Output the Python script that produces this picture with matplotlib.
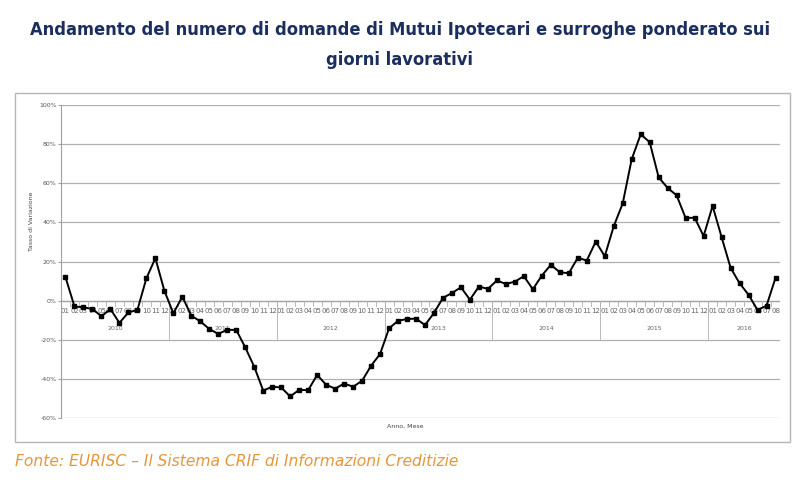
import numpy as np
import matplotlib.pyplot as plt
from matplotlib.patches import Rectangle

# years and months on the category axis (Jan 2010 .. Aug 2016)
years = ["2010", "2011", "2012", "2013", "2014", "2015", "2016"]
months_per_year = [12, 12, 12, 12, 12, 12, 8]

# variation rate in percent, one value per month
v2010 = [12, -3, -3.4, -4.3, -8, -4.3, -11.4, -6, -4.8, 11.4, 21.7, 5.1]
v2011 = [-6.5, 2, -7.7, -10.6, -14.5, -17, -14.9, -15, -23.9, -33.8, -46, -44]
v2012 = [-44.4, -49, -45.6, -45.8, -38, -43, -45, -42.4, -44, -41, -33.3, -27.3]
v2013 = [-14.2, -10.3, -9.4, -9.2, -12.5, -6.3, 1.4, 3.9, 6.8, 0.5, 7.2, 6]
v2014 = [10.3, 8.5, 9.7, 12.5, 5.8, 12.8, 18.3, 14.5, 14, 21.9, 20.5, 30.2]
v2015 = [22.7, 38, 49.7, 72.3, 85, 81, 63, 57.6, 53.8, 42.2, 42.4, 33]
v2016 = [48.4, 32.5, 16.8, 8.9, 3, -4.8, -2.6, 11.6]

values = np.array(v2010 + v2011 + v2012 + v2013 + v2014 + v2015 + v2016)
month_labels = []
for n in months_per_year:
    month_labels += ["%02d" % (m + 1) for m in range(n)]
x = np.arange(len(values))

fig = plt.figure(figsize=(8, 4.8), dpi=100)
fig.patch.set_facecolor("white")

# title and source
fig.text(0.5, 1 - 30 / 480, "Andamento del numero di domande di Mutui Ipotecari e surroghe ponderato sui",
         ha="center", va="center", fontsize=13.1, fontweight="bold", fontstretch="condensed",
         color="#1b2f5e")
fig.text(0.5, 1 - 60 / 480, "giorni lavorativi",
         ha="center", va="center", fontsize=13.1, fontweight="bold", fontstretch="condensed",
         color="#1b2f5e")
fig.text(15 / 800, 1 - 462 / 480, "Fonte: EURISC \u2013 Il Sistema CRIF di Informazioni Creditizie",
         ha="left", va="center", fontsize=11.2, style="italic", color="#e3973a")

# chart frame
fig.patches.append(Rectangle((15 / 800, 1 - 442 / 480), 775 / 800, 349 / 480,
                             transform=fig.transFigure, fill=False, edgecolor="#b5b5b5", lw=1))

ax = fig.add_axes([61 / 800, 1 - 418 / 480, 719 / 800, 313 / 480])
ax.set_xlim(-0.5, len(values) - 0.5)
ax.set_ylim(-60, 100)
ax.set_yticks(np.arange(-60, 101, 20))
ax.set_yticklabels(["%d%%" % t for t in range(-60, 101, 20)], fontsize=4.5, color="#555555")
ax.grid(axis="y", color="#b0b0b0", lw=0.9)
ax.set_axisbelow(True)
for s in ["top", "right", "bottom"]:
    ax.spines[s].set_visible(False)
ax.spines["left"].set_color("#a0a0a0")
ax.tick_params(axis="y", length=2, color="#a0a0a0", pad=1)
ax.set_xticks([])

# category axis drawn on the zero line
ax.axhline(0, color="#a0a0a0", lw=0.9, zorder=1)
for i in range(len(values) + 1):
    ax.plot([i - 0.5, i - 0.5], [0, -2.5], color="#b0b0b0", lw=0.6, zorder=1)
for i, lab in enumerate(month_labels):
    ax.text(i, -5.2, lab, ha="center", va="center", fontsize=5, color="#666666", zorder=1)
start = 0
for yr, n in zip(years, months_per_year):
    ax.plot([start - 0.5, start - 0.5], [0, -19.5], color="#b0b0b0", lw=0.6, zorder=1)
    ax.text(start + (n - 1) / 2, -14, yr, ha="center", va="center", fontsize=4.5,
            color="#666666", zorder=1)
    start += n
ax.plot([start - 0.5, start - 0.5], [0, -19.5], color="#b0b0b0", lw=0.6, zorder=1)

ax.plot(x, values, color="black", lw=1.4, marker="s", markersize=2.3, zorder=3)

ax.set_ylabel("Tasso di Variazione", fontsize=4.5, color="#444444", labelpad=4)
ax.yaxis.set_label_coords(-0.038, 0.63)
fig.text(405 / 800, 1 - 426 / 480, "Anno, Mese", ha="center", va="center", fontsize=4.5,
         color="#444444")

fig.savefig("out.png", dpi=100)
